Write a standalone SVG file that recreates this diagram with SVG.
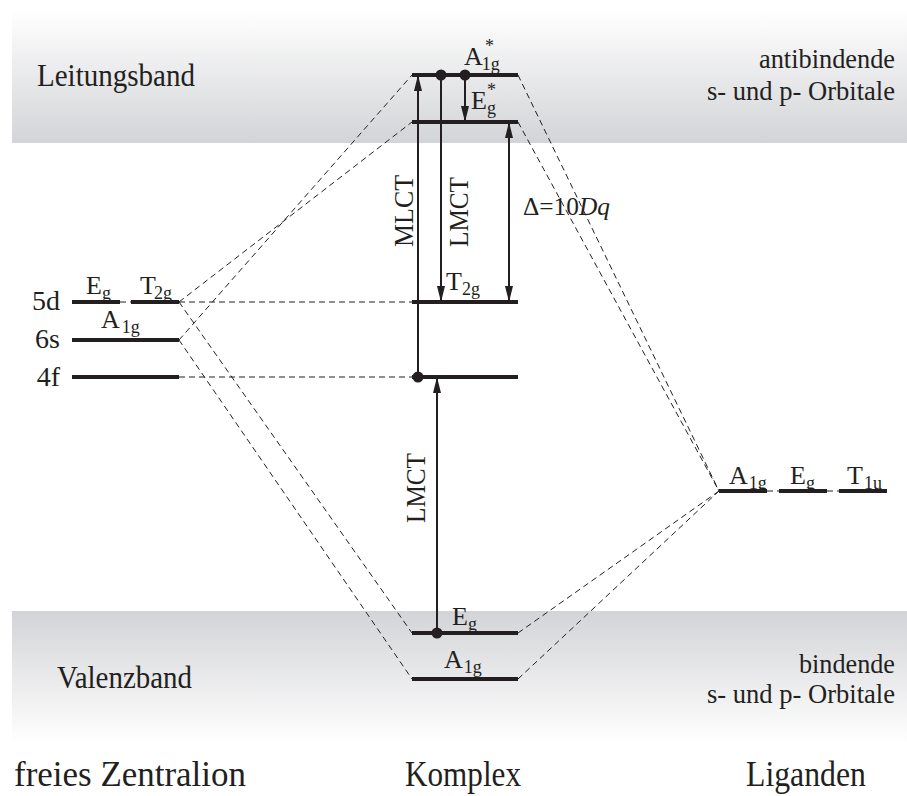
<svg xmlns="http://www.w3.org/2000/svg" width="907" height="796" viewBox="0 0 907 796" font-family="'Liberation Serif', 'DejaVu Serif', 'Times New Roman', serif">
<style>
text{font-family:"Liberation Serif","DejaVu Serif","Times New Roman",serif;fill:#231f20}
.lvl{stroke:#231f20;stroke-width:4;fill:none}
.dash{stroke:#231f20;stroke-width:1;stroke-dasharray:6 4;fill:none}
.arr{stroke:#231f20;stroke-width:2;fill:none;marker-end:url(#ah)}
.dbl{stroke:#231f20;stroke-width:2;fill:none;marker-end:url(#ah);marker-start:url(#ah)}
.lab{font-size:26px}
.sub{font-size:18px}
.band{font-size:31px}
.side{font-size:28px}
.big{font-size:35px}
.dot{fill:#231f20}
</style>
<defs>
<linearGradient id="gTop" x1="0" y1="0" x2="0" y2="1"><stop offset="0" stop-color="#ffffff"/><stop offset="1" stop-color="#d3d4d7"/></linearGradient>
<linearGradient id="gBot" x1="0" y1="0" x2="0" y2="1"><stop offset="0" stop-color="#d3d4d7"/><stop offset="1" stop-color="#ffffff"/></linearGradient>
<marker id="ah" viewBox="0 0 16 8" refX="16" refY="4" markerWidth="16" markerHeight="8" markerUnits="userSpaceOnUse" orient="auto-start-reverse"><path d="M0,0 L16,4 L0,8 z" fill="#231f20"/></marker>
</defs>

<g id="bands">
<rect x="12" y="10" width="895" height="133" fill="url(#gTop)"/>
<rect x="12" y="611" width="895" height="132" fill="url(#gBot)"/>
<text class="band" x="37" y="86" textLength="158" lengthAdjust="spacingAndGlyphs">Leitungsband</text>
<text class="band" x="57" y="688" textLength="135" lengthAdjust="spacingAndGlyphs">Valenzband</text>
<text class="side" x="895" y="68" text-anchor="end" textLength="136" lengthAdjust="spacingAndGlyphs">antibindende</text>
<text class="side" x="895" y="100" text-anchor="end" textLength="188" lengthAdjust="spacingAndGlyphs">s- und p- Orbitale</text>
<text class="side" x="895" y="673" text-anchor="end" textLength="96" lengthAdjust="spacingAndGlyphs">bindende</text>
<text class="side" x="895" y="703" text-anchor="end" textLength="188" lengthAdjust="spacingAndGlyphs">s- und p- Orbitale</text>
</g>

<g id="connectors">
<line class="dash" x1="120" y1="302" x2="131" y2="302"/>
<line class="dash" x1="179" y1="302" x2="412" y2="302"/>
<line class="dash" x1="179" y1="377" x2="412" y2="377"/>
<line class="dash" x1="179" y1="302" x2="412" y2="122"/>
<line class="dash" x1="179" y1="340" x2="412" y2="75"/>
<line class="dash" x1="179" y1="302" x2="412" y2="633"/>
<line class="dash" x1="179" y1="340" x2="412" y2="679"/>
<line class="dash" x1="518" y1="75" x2="719" y2="491"/>
<line class="dash" x1="518" y1="122" x2="719" y2="491"/>
<line class="dash" x1="518" y1="633" x2="719" y2="491"/>
<line class="dash" x1="518" y1="679" x2="719" y2="491"/>
<line class="dash" x1="767" y1="491" x2="779" y2="491"/>
<line class="dash" x1="827" y1="491" x2="839" y2="491"/>
<line class="arr" x1="418" y1="377" x2="418" y2="75"/>
<line class="arr" x1="441" y1="75" x2="441" y2="302"/>
<line class="arr" x1="465" y1="75" x2="465" y2="122"/>
<line class="dbl" x1="509" y1="122" x2="509" y2="302"/>
<line class="arr" x1="437" y1="633" x2="437" y2="377"/>
<circle class="dot" cx="418" cy="377" r="5.5"/>
<circle class="dot" cx="441" cy="75" r="5.5"/>
<circle class="dot" cx="465" cy="75" r="5.5"/>
<circle class="dot" cx="437" cy="633" r="5.5"/>
<text class="side" transform="translate(413,211) rotate(-90)" text-anchor="middle" textLength="72" lengthAdjust="spacingAndGlyphs">MLCT</text>
<text class="side" transform="translate(468,212) rotate(-90)" text-anchor="middle" textLength="70" lengthAdjust="spacingAndGlyphs">LMCT</text>
<text class="side" transform="translate(425,488) rotate(-90)" text-anchor="middle" textLength="70" lengthAdjust="spacingAndGlyphs">LMCT</text>
<text class="lab" x="523" y="215" textLength="87" lengthAdjust="spacingAndGlyphs">Δ=10<tspan font-style="italic">Dq</tspan></text>
</g>

<g id="ion">
<text class="side" x="60" y="310" text-anchor="end">5d</text>
<text class="side" x="60" y="348" text-anchor="end">6s</text>
<text class="side" x="60" y="386" text-anchor="end">4f</text>
<line class="lvl" x1="72" y1="302" x2="120" y2="302"/>
<line class="lvl" x1="131" y1="302" x2="179" y2="302"/>
<line class="lvl" x1="72" y1="340" x2="179" y2="340"/>
<line class="lvl" x1="72" y1="377" x2="179" y2="377"/>
<text class="lab" x="86" y="294">E<tspan class="sub" dy="5">g</tspan></text>
<text class="lab" x="140" y="294">T<tspan class="sub" dx="-2" dy="5">2g</tspan></text>
<text class="lab" x="101" y="328">A<tspan class="sub" dx="2" dy="5">1g</tspan></text>
</g>

<g id="complex">
<line class="lvl" x1="412" y1="75" x2="518" y2="75"/>
<line class="lvl" x1="412" y1="122" x2="518" y2="122"/>
<line class="lvl" x1="412" y1="302" x2="518" y2="302"/>
<line class="lvl" x1="412" y1="377" x2="518" y2="377"/>
<line class="lvl" x1="412" y1="633" x2="518" y2="633"/>
<line class="lvl" x1="412" y1="679" x2="518" y2="679"/>
<text class="lab" x="464" y="65">A<tspan class="sub" dx="-1" dy="5">1g</tspan></text>
<text class="sub" x="485" y="52">*</text>
<text class="lab" x="471" y="109">E<tspan class="sub" dy="5">g</tspan></text>
<text class="sub" x="487" y="96">*</text>
<text class="lab" x="446" y="290">T<tspan class="sub" dy="5">2g</tspan></text>
<text class="lab" x="452" y="625">E<tspan class="sub" dy="5">g</tspan></text>
<text class="lab" x="444" y="668">A<tspan class="sub" dx="1" dy="5">1g</tspan></text>
</g>

<g id="ligands">
<line class="lvl" x1="719" y1="491" x2="767" y2="491"/>
<line class="lvl" x1="779" y1="491" x2="827" y2="491"/>
<line class="lvl" x1="839" y1="491" x2="887" y2="491"/>
<text class="lab" x="729" y="484">A<tspan class="sub" dx="1" dy="5">1g</tspan></text>
<text class="lab" x="790" y="484">E<tspan class="sub" dy="5">g</tspan></text>
<text class="lab" x="847" y="484">T<tspan class="sub" dx="1" dy="5">1u</tspan></text>
</g>

<g id="titles">
<text class="big" x="14" y="786" textLength="232" lengthAdjust="spacingAndGlyphs">freies Zentralion</text>
<text class="big" x="405" y="786" textLength="116" lengthAdjust="spacingAndGlyphs">Komplex</text>
<text class="big" x="746" y="786" textLength="120" lengthAdjust="spacingAndGlyphs">Liganden</text>
</g>
</svg>
